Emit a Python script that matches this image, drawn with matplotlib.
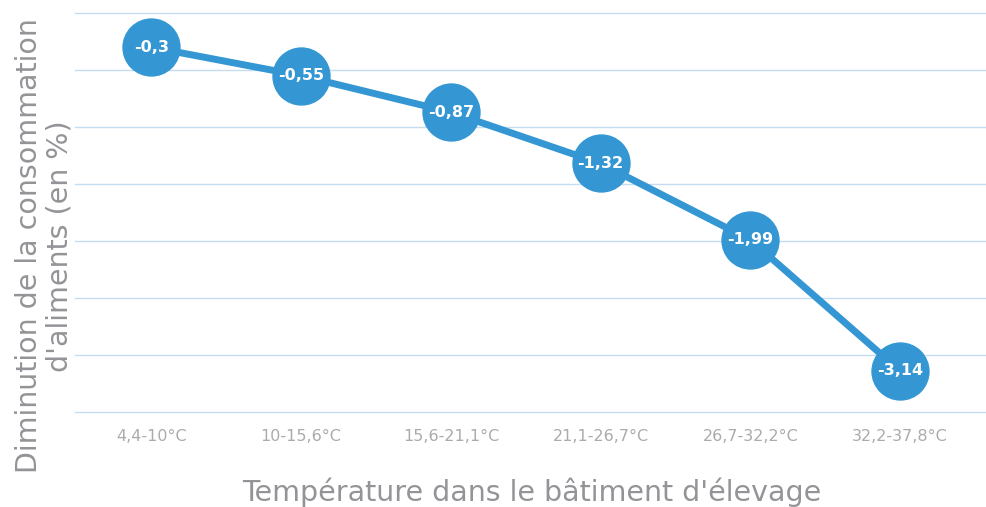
import matplotlib
matplotlib.use('Agg')
from matplotlib import pyplot as plt

categories = ['4,4-10°C', '10-15,6°C', '15,6-21,1°C', '21,1-26,7°C', '26,7-32,2°C', '32,2-37,8°C']
values = [-0.3, -0.55, -0.87, -1.32, -1.99, -3.14]
value_labels = ['-0,3', '-0,55', '-0,87', '-1,32', '-1,99', '-3,14']

blue = '#3497d3'
grey = '#949498'

plt.rcParams['font.family'] = ['DejaVu Sans']

fig = plt.figure(figsize=(9.87, 5.07), dpi=100)
ax = fig.add_axes([75 / 987, 1 - 412 / 507, 912 / 987, 399 / 507])

x = list(range(len(categories)))
ax.plot(x, values, color=blue, linewidth=5, marker='o', markersize=41,
        markerfacecolor=blue, markeredgecolor=blue, zorder=3, clip_on=False)
for xi, v, lab in zip(x, values, value_labels):
    ax.text(xi, v, lab, color='white', fontsize=11.5, fontweight='bold',
            ha='center', va='center', zorder=4)

ax.set_xlim(-0.51, 5.58)
ax.set_ylim(-3.5, 0)
ax.set_yticks([0, -0.5, -1, -1.5, -2, -2.5, -3, -3.5])
ax.set_yticklabels([])
ax.grid(axis='y', color='#c6dcf0', linewidth=1)
for gl in ax.get_ygridlines():
    gl.set_clip_on(False)
ax.set_axisbelow(True)
ax.tick_params(axis='y', length=0)
ax.set_xticks(x)
ax.set_xticklabels(categories, color='#ababab', fontsize=11.5)
ax.tick_params(axis='x', length=0, pad=12)
for s in ax.spines.values():
    s.set_visible(False)

fig.text(532 / 987, 1 - 492 / 507, "Température dans le bâtiment d'élevage",
         ha='center', va='center', fontsize=20.5, color=grey)
fig.text(44 / 987, 1 - 246 / 507, "Diminution de la consommation\nd'aliments (en %)",
         ha='center', va='center', rotation=90, fontsize=20.5, color=grey,
         linespacing=1.1)

fig.savefig('out.png', dpi=100)
